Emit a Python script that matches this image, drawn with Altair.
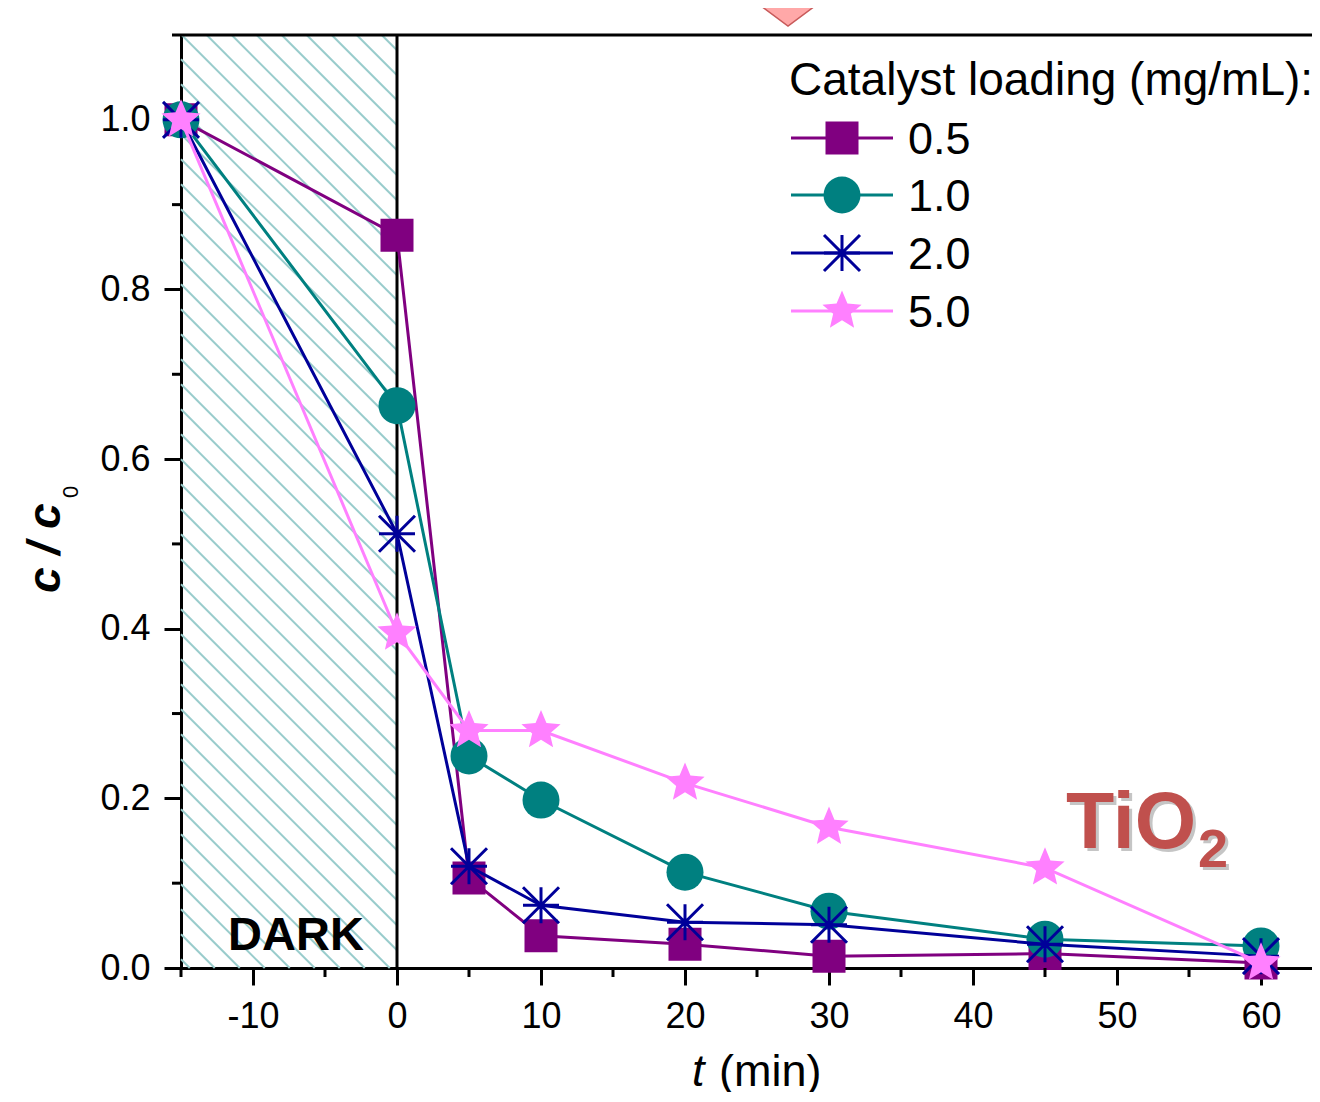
import altair as alt
import pandas as pd
import numpy as np

# ---------------- data ----------------
t_min = [-15, 0, 5, 10, 20, 30, 45, 60]
c_05 = [1.0, 0.864, 0.106, 0.038, 0.028, 0.014, 0.017, 0.006]
c_10 = [1.0, 0.663, 0.250, 0.198, 0.113, 0.067, 0.034, 0.026]
c_20 = [1.0, 0.512, 0.120, 0.074, 0.054, 0.051, 0.028, 0.014]
c_50 = [1.0, 0.395, 0.280, 0.280, 0.218, 0.166, 0.118, 0.006]
series_names = ["0.5", "1.0", "2.0", "5.0"]
series_vals = [c_05, c_10, c_20, c_50]
colors = ["#800080", "#008080", "#000099", "#ff80ff"]

x_major = [-10, 0, 10, 20, 30, 40, 50, 60]
x_minor = [-15, -5, 5, 15, 25, 35, 45, 55]
y_major = [0.0, 0.2, 0.4, 0.6, 0.8, 1.0]
y_minor = [0.1, 0.3, 0.5, 0.7, 0.9, 1.1]

# ---------------- layout ----------------
PX_PER_MIN = 14.4
W, H = 1131, 933
XMIN = -15
XMAX = XMIN + W / PX_PER_MIN
YMIN, YMAX = 0.0, 1.1
LEFT, TOP = 181, 35          # page coords of plot origin
KX = W / (XMAX - XMIN)
KY = H / (YMAX - YMIN)
FONT = "Liberation Sans"


def tx(px):
    return XMIN + (px - LEFT) / KX


def vy(py):
    return YMAX - (py - TOP) / KY


xs = alt.Scale(domain=[XMIN, XMAX], nice=False, zero=False)
ys = alt.Scale(domain=[YMIN, YMAX], nice=False, zero=False)
xaxis = alt.Axis(values=x_major, title=None, grid=False, tickSize=17, tickWidth=3,
                 domainWidth=3, domainColor="black", tickColor="black",
                 labelFontSize=36, labelFont=FONT, labelColor="black",
                 labelPadding=14, labelFlush=False, labelOverlap=False,
                 labelExpr="toString(datum.value)")
yaxis = alt.Axis(values=y_major, title=None, grid=False, tickSize=17, tickWidth=3,
                 domainWidth=3, domainColor="black", tickColor="black",
                 labelFontSize=36, labelFont=FONT, labelColor="black",
                 labelPadding=14, labelOverlap=False, format=".1f")
X = alt.X("t:Q", scale=xs, axis=xaxis)
Y = alt.Y("v:Q", scale=ys, axis=yaxis)
X2 = alt.X2("t2:Q")
Y2 = alt.Y2("v2:Q")

layers = []

# ---------------- hatch of DARK region ----------------
x0_px = (0 - XMIN) * KX
rows = []
for c in np.arange(0.7 - 1000, x0_px + 1, 25.0):
    xa = max(0.0, c)
    xb = min(x0_px, H + c)
    if xb <= xa:
        continue
    ya, yb = xa - c, xb - c
    rows.append({"t": tx(LEFT + xa), "v": vy(TOP + ya),
                 "t2": tx(LEFT + xb), "v2": vy(TOP + yb)})
hatch = alt.Chart(pd.DataFrame(rows)).mark_rule(color="#99cccc", strokeWidth=2).encode(
    x=X, y=Y, x2=X2, y2=Y2)
layers.append(hatch)

# boundary of dark region at t=0
dark_edge = alt.Chart(pd.DataFrame({"t": [0.0], "v": [YMIN], "v2": [YMAX]})).mark_rule(
    color="black", strokeWidth=3).encode(x=X, y=Y, y2=Y2)
layers.append(dark_edge)

# ---------------- marker shapes ----------------
star_pts = []
for k in range(10):
    r = 1.0 if k % 2 == 0 else 0.45
    a = np.deg2rad(-90 + 36 * k)
    star_pts.append(f"{r*np.cos(a):.4f},{r*np.sin(a):.4f}")
STAR = "M" + "L".join(star_pts) + "Z"
ASTER = "M0,-1L0,1M-1,0L1,0M-1,-1L1,1M-1,1L1,-1"
shapes = [("square", 1089, True), ("circle", 1369, True), (ASTER, 1296, False), (STAR, 1700, True)]

# ---------------- series ----------------
for name, vals, col, (shp, sz, filled) in zip(series_names, series_vals, colors, shapes):
    df = pd.DataFrame({"t": t_min, "v": vals})
    line = alt.Chart(df).mark_line(color=col, strokeWidth=3).encode(x=X, y=Y)
    if filled:
        pts = alt.Chart(df).mark_point(shape=shp, size=sz, filled=True, color=col,
                                       opacity=1).encode(x=X, y=Y)
    else:
        pts = alt.Chart(df).mark_point(shape=shp, size=sz, filled=False, color=col,
                                       strokeWidth=3, opacity=1).encode(x=X, y=Y)
    layers += [line, pts]


# ---------------- annotations ----------------
def annot(px, py, text, **kw):
    df = pd.DataFrame({"t": [tx(px)], "v": [vy(py)], "label": [text]})
    return alt.Chart(df).mark_text(font=FONT, **kw).encode(x=X, y=Y, text="label:N")


layers.append(annot(296, 950, "DARK", fontSize=47, fontWeight="bold", color="black",
                    align="center", baseline="alphabetic"))

# TiO2 with shadow
for dx, col, op in [(3, "#7f7f7f", 0.45), (0, "#c0504d", 1.0)]:
    layers.append(annot(1066 + dx, 848 + dx, "TiO", fontSize=79, fontWeight="bold",
                        color=col, opacity=op, align="left", baseline="alphabetic"))
    layers.append(annot(1198 + dx, 867 + dx, "2", fontSize=54, fontWeight="bold",
                        color=col, opacity=op, align="left", baseline="alphabetic"))

# axis titles
layers.append(annot(60, 593, "c / c", fontSize=46, fontWeight="bold", fontStyle="italic",
                    color="black", angle=270, align="left", baseline="alphabetic"))
layers.append(annot(78, 498, "0", fontSize=22, color="black", angle=270,
                    align="left", baseline="alphabetic"))
layers.append(annot(692, 1086, "t", fontSize=45, fontStyle="italic", color="black",
                    align="left", baseline="alphabetic"))
layers.append(annot(719, 1086, "(min)", fontSize=45, color="black",
                    align="left", baseline="alphabetic"))

# top arrow decoration
ARROW = "M-2.7,-1L2.7,-1L0,1Z"
arrow = alt.Chart(pd.DataFrame({"t": [tx(788)], "v": [vy(6)]})).mark_point(
    shape=ARROW, size=1600, filled=True, fill="#ffa8a8", stroke="#c85a5a",
    strokeWidth=1.5, opacity=1).encode(x=X, y=Y)
layers.append(arrow)

# ---------------- legend ----------------
layers.append(annot(789, 95, "Catalyst loading (mg/mL):", fontSize=46, color="black",
                    align="left", baseline="alphabetic"))
leg_rows = [138, 195, 253, 311]
for name, col, (shp, sz, filled), ry in zip(series_names, colors, shapes, leg_rows):
    seg = alt.Chart(pd.DataFrame({"t": [tx(791)], "t2": [tx(893)], "v": [vy(ry)]})).mark_rule(
        color=col, strokeWidth=3).encode(x=X, x2=X2, y=Y)
    pdf = pd.DataFrame({"t": [tx(842)], "v": [vy(ry)]})
    if filled:
        mk = alt.Chart(pdf).mark_point(shape=shp, size=sz, filled=True, color=col,
                                       opacity=1).encode(x=X, y=Y)
    else:
        mk = alt.Chart(pdf).mark_point(shape=shp, size=sz, filled=False, color=col,
                                       strokeWidth=3, opacity=1).encode(x=X, y=Y)
    txt = annot(908, ry + 16, name, fontSize=45, color="black", align="left",
                baseline="alphabetic")
    layers += [seg, mk, txt]

# ---------------- frame: top border + minor ticks ----------------
top_border = alt.Chart(pd.DataFrame({"t": [XMIN], "t2": [XMAX], "v": [YMAX]})).mark_rule(
    color="black", strokeWidth=3).encode(x=X, x2=X2, y=Y)
layers.append(top_border)

xminor = alt.Chart(pd.DataFrame({"t": x_minor})).mark_rule(color="black", strokeWidth=3).encode(
    x=X, y=alt.value(H), y2=alt.value(H + 9))
yminor = alt.Chart(pd.DataFrame({"v": y_minor})).mark_rule(color="black", strokeWidth=3).encode(
    y=Y, x=alt.value(0), x2=alt.value(-9))
layers += [xminor, yminor]

chart = alt.layer(*layers).properties(
    width=W, height=H,
    autosize=alt.AutoSizeParams(type="none"),
    padding={"left": LEFT - 8, "top": TOP - 8, "right": 0, "bottom": 124},
    background="white",
).configure_view(stroke=None)

chart.save("out.html", embed_options={"renderer": "svg", "actions": False})
